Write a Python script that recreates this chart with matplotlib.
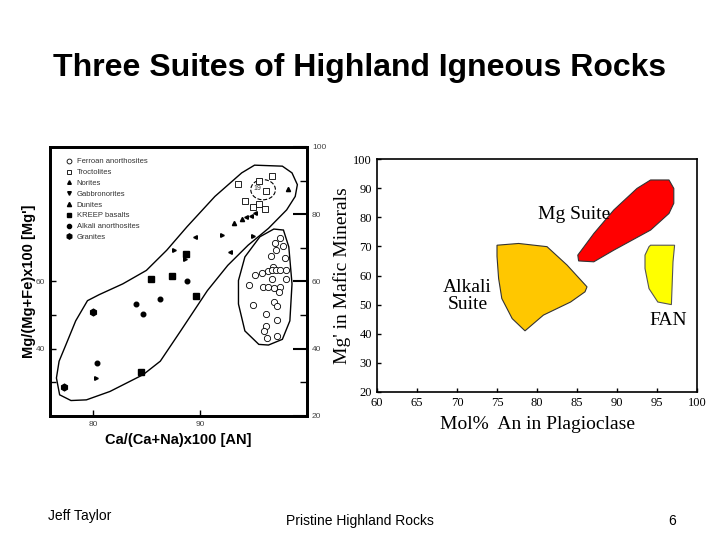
import matplotlib
matplotlib.use("Agg")
import matplotlib.pyplot as plt
from matplotlib.patches import Polygon, Ellipse
from matplotlib.lines import Line2D

# ---- left panel: lunar highland samples (AN vs Mg') ----
ferroan_x = [97.5, 96.97, 97.8, 97.1, 96.66, 97.9, 96.8, 96.4, 96.7, 97.1, 97.5, 98.0,
             95.8, 95.1, 96.7, 98.0, 94.6, 95.9, 96.4, 96.9, 97.5, 97.4, 95.0, 96.9,
             97.2, 96.2, 97.2, 96.2, 96.0, 97.2, 96.3]
ferroan_y = [73.0, 71.5, 70.6, 69.5, 67.5, 67.1, 64.3, 63.1, 63.5, 63.3, 63.5, 63.3,
             62.5, 61.8, 60.6, 60.6, 59.1, 58.5, 58.3, 58.0, 58.3, 56.8, 53.1, 53.8,
             52.8, 50.3, 48.5, 46.8, 45.3, 43.8, 43.1]
troct_x = [93.6, 95.5, 96.7, 96.2, 94.2, 95.5, 95.0, 96.1]
troct_y = [89.1, 90.0, 91.3, 86.8, 83.8, 83.1, 82.1, 81.5]
norite_x = [89.5, 92.8, 94.3, 94.8, 95.1]
norite_y = [73.3, 68.8, 79.1, 79.5, 80.5]
gabbro_x = [92.1, 87.6, 88.6, 95.0, 80.25]
gabbro_y = [73.8, 69.3, 66.6, 73.5, 31.3]
dunite_x = [98.2, 93.2, 93.9]
dunite_y = [87.5, 77.3, 78.5]
kreep_x = [88.7, 85.4, 87.4, 89.6, 84.5]
kreep_y = [68.1, 60.8, 61.5, 55.8, 33.1]
alkan_x = [88.8, 86.3, 84.0, 84.7, 80.4]
alkan_y = [60.0, 54.8, 53.3, 50.3, 35.7]
granite_x = [80.0, 77.3]
granite_y = [51.0, 28.6]

# field outlines
highland_x = [77.96, 79.4, 81.6, 84.7, 86.3, 88.2, 90.7, 92.6, 94.5, 96.4, 98.1, 98.9,
              99.1, 98.6, 97.7, 95.1, 93.9, 91.4, 88.8, 86.9, 85.0, 82.8, 80.6, 79.5,
              78.4, 77.5, 76.85, 76.6, 76.9]
highland_y = [24.6, 24.8, 27.3, 32.3, 36.3, 45.3, 57.3, 64.8, 70.8, 75.8, 81.3, 85.3,
              88.8, 92.3, 94.3, 94.6, 92.3, 85.3, 76.3, 69.3, 63.3, 59.3, 56.1, 54.3,
              48.3, 41.3, 36.3, 31.3, 26.3]
fanfield_x = [93.6, 94.2, 95.6, 96.9, 97.8, 98.3, 98.6, 98.4, 97.7, 96.4, 95.5, 94.2, 93.6]
fanfield_y = [60.3, 67.3, 73.3, 75.6, 75.3, 70.3, 59.3, 48.3, 42.8, 41.1, 41.3, 45.3, 53.3]

# ---- right panel: suite fields ----
mg_x = [85.1, 85.2, 87.1, 89.6, 94.2, 96.5, 97.1, 97.1, 96.5, 94.2, 92.5, 89.6, 87.1]
mg_y = [67.0, 65.0, 64.7, 68.7, 75.6, 81.3, 84.8, 89.9, 92.8, 92.8, 89.9, 82.5, 74.4]
fan_x = [94.0, 94.2, 97.2, 97.0, 96.8, 95.1, 94.0, 93.5, 93.5]
fan_y = [69.9, 70.4, 70.4, 64.7, 50.0, 50.9, 55.5, 62.4, 67.0]
alk_x = [75.0, 77.7, 81.25, 83.75, 86.25, 86.0, 84.2, 80.8, 78.5, 76.9, 75.6, 75.2, 75.0]
alk_y = [70.4, 71.0, 69.9, 63.6, 56.1, 54.4, 50.9, 46.4, 41.0, 45.2, 52.1, 59.0, 66.6]

fig = plt.figure(figsize=(7.2, 5.4), dpi=100)
fig.patch.set_facecolor("white")

sans = "Liberation Sans"
serif = "Liberation Serif"

fig.text(0.5, 1 - 68 / 540, "Three Suites of Highland Igneous Rocks", ha="center", va="center",
         fontsize=23, fontweight="bold", family=sans)
fig.text(48 / 720, 1 - 516 / 540, "Jeff Taylor", ha="left", va="center", fontsize=10, family=sans)
fig.text(360 / 720, 1 - 521 / 540, "Pristine Highland Rocks", ha="center", va="center",
         fontsize=10, family=sans)
fig.text(672 / 720, 1 - 521 / 540, "6", ha="center", va="center", fontsize=10, family=sans)

# left panel
ax = fig.add_axes([50 / 720, 1 - 416 / 540, 257 / 720, 269 / 540])
ax.set_xlim(76, 100)
ax.set_ylim(20, 100)
for s in ax.spines.values():
    s.set_linewidth(2)

ax.add_patch(Polygon(list(zip(highland_x, highland_y)), closed=True, fill=False, ec="black", lw=1))
ax.add_patch(Polygon(list(zip(fanfield_x, fanfield_y)), closed=True, fill=False, ec="black", lw=1))
ax.add_patch(Ellipse((95.9, 87.3), 2.3, 6, fill=False, ec="black", lw=0.8, ls="--"))
ax.text(95.4, 87.6, "19", fontsize=5, ha="center", va="center", family=sans, color="#333333")

ax.plot(ferroan_x, ferroan_y, "o", mfc="white", mec="black", ms=4.5, mew=0.6, ls="none")
ax.plot(troct_x, troct_y, "s", mfc="white", mec="black", ms=4.2, mew=0.6, ls="none")
ax.plot(norite_x, norite_y, "<", color="black", ms=2.6, ls="none")
ax.plot(gabbro_x, gabbro_y, ">", color="black", ms=2.6, ls="none")
ax.plot(dunite_x, dunite_y, "^", color="black", ms=3, ls="none")
ax.plot(kreep_x, kreep_y, "s", color="black", ms=4.2, ls="none")
ax.plot(alkan_x, alkan_y, "o", color="black", ms=3.3, ls="none")
ax.plot(granite_x, granite_y, "h", color="black", ms=4.8, ls="none")

handles = [
    Line2D([], [], marker="o", ls="none", mfc="white", mec="black", ms=3.5, mew=0.6),
    Line2D([], [], marker="s", ls="none", mfc="white", mec="black", ms=3.3, mew=0.6),
    Line2D([], [], marker="^", ls="none", color="black", ms=2.6),
    Line2D([], [], marker="v", ls="none", color="black", ms=2.6),
    Line2D([], [], marker="^", ls="none", color="black", ms=3),
    Line2D([], [], marker="s", ls="none", color="black", ms=3.5),
    Line2D([], [], marker="o", ls="none", color="black", ms=3),
    Line2D([], [], marker="h", ls="none", color="black", ms=3.8),
]
labels = ["Ferroan anorthosites", "Troctolites", "Norites", "Gabbronorites", "Dunites",
          "KREEP basalts", "Alkali anorthosites", "Granites"]
leg = ax.legend(handles, labels, loc="upper left", bbox_to_anchor=(0.05, 0.97), frameon=False,
                prop={"family": sans, "size": 5.5}, handlelength=0.8, handletextpad=0.6,
                labelspacing=0.45, borderaxespad=0)
for t in leg.get_texts():
    t.set_color("#333333")

ax.set_xticks([80, 90])
ax.set_xticklabels(["80", "90"], fontsize=6, color="#444444", family=sans)
ax.set_yticks([30, 40, 50, 60])
ax.set_yticklabels(["", "40", "", "60"], fontsize=6, color="#444444", family=sans)
ax.tick_params(direction="in", length=4, width=1)
ax.set_xlabel("Ca/(Ca+Na)x100 [AN]", fontsize=10.5, fontweight="bold", family=sans, labelpad=4)
ax.set_ylabel("Mg/(Mg+Fe)x100 [Mg']", fontsize=10.5, fontweight="bold", family=sans, labelpad=0)

ax2 = ax.twinx()
ax2.set_ylim(20, 100)
ax2.set_yticks([20, 40, 60, 80, 100])
ax2.set_yticklabels(["20", "40", "60", "80", "100"], fontsize=6, color="#444444", family=sans)
ax2.set_yticks([30, 50, 70, 90], minor=True)
ax2.tick_params(axis="y", which="major", direction="in", length=10, width=1.5)
ax2.tick_params(axis="y", which="minor", direction="in", length=5, width=1)
for s in ax2.spines.values():
    s.set_linewidth(2)

# right panel
bx = fig.add_axes([377 / 720, 1 - 392 / 540, 320 / 720, 233 / 540])
bx.set_xlim(60, 100)
bx.set_ylim(20, 100)
for s in bx.spines.values():
    s.set_linewidth(1.2)

bx.add_patch(Polygon(list(zip(alk_x, alk_y)), closed=True, fc="#FFC700", ec="#333333", lw=0.8))
bx.add_patch(Polygon(list(zip(mg_x, mg_y)), closed=True, fc="#FF0000", ec="#333333", lw=0.8))
bx.add_patch(Polygon(list(zip(fan_x, fan_y)), closed=True, fc="#FFFF00", ec="#555555", lw=0.8))

bx.text(84.7, 81.1, "Mg Suite", fontsize=14, family=serif, ha="center", va="center")
bx.text(71.3, 53.0, "Alkali\nSuite", fontsize=14, family=serif, ha="center", va="center",
        linespacing=1.05)
bx.text(96.4, 44.6, "FAN", fontsize=14, family=serif, ha="center", va="center")

bx.set_xticks(range(60, 101, 5))
bx.set_yticks(range(20, 101, 10))
bx.tick_params(labelsize=9, direction="in", length=3, width=1)
for lab in bx.get_xticklabels() + bx.get_yticklabels():
    lab.set_family(serif)
bx.set_xlabel("Mol%  An in Plagioclase", fontsize=14, family=serif, labelpad=5)
bx.set_ylabel("Mg' in Mafic Minerals", fontsize=14, family=serif, labelpad=2)

fig.savefig("out.png", dpi=100, facecolor="white")
